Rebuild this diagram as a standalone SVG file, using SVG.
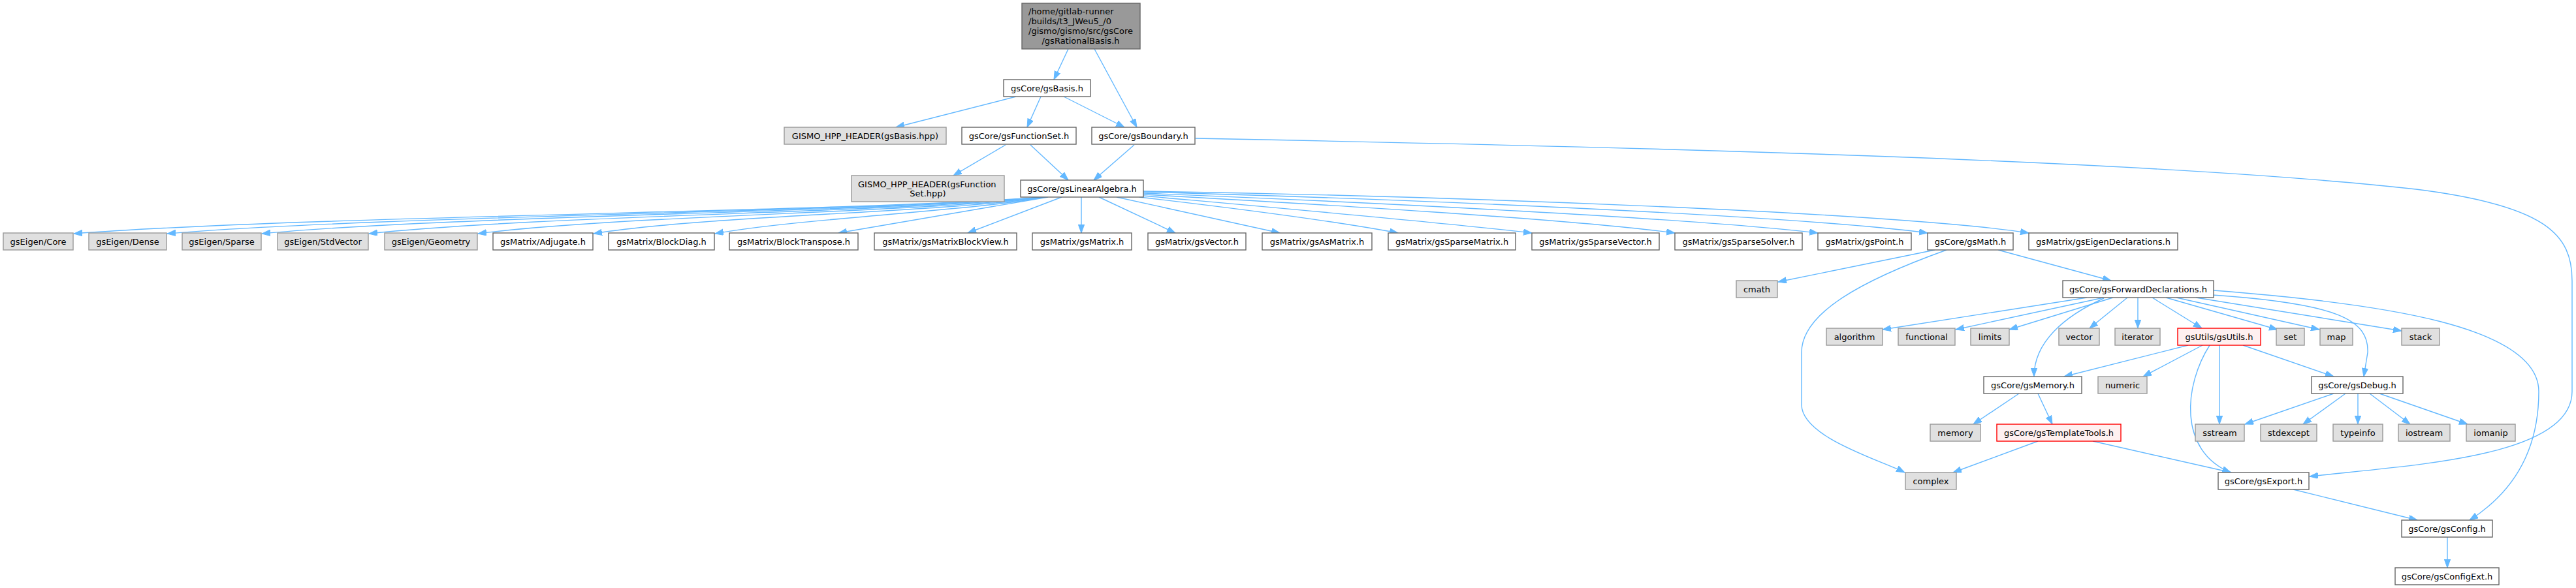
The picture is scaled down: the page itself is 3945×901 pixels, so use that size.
<svg xmlns="http://www.w3.org/2000/svg" width="3945" height="901" viewBox="0 0 3945 901">
<style>
rect{stroke-width:1.4}
.w rect{fill:#ffffff;stroke:#666666}
.g rect{fill:#e0e0e0;stroke:#999999}
.r rect{fill:#fff0f0;stroke:#ff0000}
.root rect{fill:#999999;stroke:#666666}
text{font-family:"DejaVu Sans","Liberation Sans",sans-serif;font-size:13px;fill:#000000;text-anchor:middle}
text.l{text-anchor:start}
#edges path{fill:none;stroke:#63b8ff;stroke-width:1.4;marker-end:url(#arr)}
</style>
<defs>
<marker id="arr" markerUnits="userSpaceOnUse" markerWidth="14" markerHeight="10" refX="13" refY="4.7" orient="auto">
<path d="M0,0 L13,4.7 L0,9.4 z" fill="#63b8ff" stroke="#63b8ff" stroke-width="1"/>
</marker>
</defs>
<rect x="0" y="0" width="3945" height="901" fill="#ffffff" style="stroke:none"/>
<g id="edges">
<path d="M1636,75 L1614,122"/>
<path d="M1676,75 L1741,195"/>
<path d="M1556,148 L1372,195"/>
<path d="M1594,148 L1573,195"/>
<path d="M1629,148 L1722,195"/>
<path d="M1540,222 L1460,269"/>
<path d="M1578,222 L1636,276"/>
<path d="M1737,222 L1675,276"/>
<path d="M1831,212 C2500,225 3300,245 3700,290 C3900,315 3939,360 3939,430 L3939,600 C3939,700 3700,712 3537,730"/>
<path d="M1598,302 C1301,325 484,330 113,358"/>
<path d="M1598,302 C1330,325 591,330 256,358"/>
<path d="M1598,302 C1359,325 700,330 401,358"/>
<path d="M1598,302 C1391,325 823,330 565,358"/>
<path d="M1598,302 C1425,325 948,330 732,358"/>
<path d="M1598,302 C1460,325 1081,330 909,358"/>
<path d="M1600,302 C1500,322 1221,335 1095,358"/>
<path d="M1605,302 L1284,357"/>
<path d="M1626,302 L1482,357"/>
<path d="M1656,302 L1656,357"/>
<path d="M1683,302 L1800,357"/>
<path d="M1710,302 L1960,357"/>
<path d="M1745,302 C1900,320 2050,340 2141,357"/>
<path d="M1751,300 C1950,318 2200,340 2346,357"/>
<path d="M1751,298 C2000,312 2400,335 2565,357"/>
<path d="M1751,296 C2100,310 2600,335 2784,357"/>
<path d="M1751,294 C2150,305 2750,330 2952,357"/>
<path d="M1751,293 C2200,300 2900,325 3107,357"/>
<path d="M2963,383 L2723,432"/>
<path d="M2981,383 C2850,430 2759,480 2759,540 L2759,620 C2759,670 2880,705 2917,724"/>
<path d="M3060,383 L3233,430"/>
<path d="M3196,456 L2883,505"/>
<path d="M3222,456 L2995,505"/>
<path d="M3236,456 L3077,505"/>
<path d="M3222,457 C3160,485 3115,525 3115,577"/>
<path d="M3258,456 L3200,503"/>
<path d="M3274,456 L3274,503"/>
<path d="M3296,456 L3372,503"/>
<path d="M3317,456 L3488,505"/>
<path d="M3333,456 L3552,505"/>
<path d="M3363,456 L3678,507"/>
<path d="M3388,452 C3580,465 3628,490 3626,540 L3620,577"/>
<path d="M3390,445 C3650,465 3888,500 3888,600 C3888,700 3840,760 3782,797"/>
<path d="M3351,529 L3161,577"/>
<path d="M3373,529 L3282,577"/>
<path d="M3384,529 C3345,590 3335,690 3416,724"/>
<path d="M3399,529 L3399,650"/>
<path d="M3435,529 L3574,577"/>
<path d="M3092,603 L3022,650"/>
<path d="M3121,603 L3143,650"/>
<path d="M3574,603 L3438,650"/>
<path d="M3592,603 L3527,650"/>
<path d="M3611,603 L3611,650"/>
<path d="M3629,603 L3691,650"/>
<path d="M3644,603 L3779,650"/>
<path d="M3121,676 L2991,724"/>
<path d="M3205,676 L3417,724"/>
<path d="M3512,750 L3702,797"/>
<path d="M3748,823 L3748,870"/>
</g>
<g id="n_root" class="root"><rect x="1565" y="5" width="181" height="70"/>
<text class="l" x="1575" y="21.5">/home/gitlab-runner</text>
<text class="l" x="1575" y="36.5">/builds/t3_JWeu5_/0</text>
<text class="l" x="1575" y="51.5">/gismo/gismo/src/gsCore</text>
<text x="1655" y="66.5">/gsRationalBasis.h</text></g>
<g id="n_gsBasis" class="w"><rect x="1537" y="122" width="133" height="26"/><text x="1603.5" y="139.5">gsCore/gsBasis.h</text></g>
<g id="n_gismo1" class="g"><rect x="1201" y="195" width="248" height="26"/><text x="1325" y="212.5">GISMO_HPP_HEADER(gsBasis.hpp)</text></g>
<g id="n_gsFunctionSet" class="w"><rect x="1473" y="195" width="175" height="26"/><text x="1560.5" y="212.5">gsCore/gsFunctionSet.h</text></g>
<g id="n_gsBoundary" class="w"><rect x="1672" y="195" width="158" height="26"/><text x="1751" y="212.5">gsCore/gsBoundary.h</text></g>
<g id="n_gismo2" class="g"><rect x="1304" y="269" width="234" height="40"/>
<text class="l" x="1314" y="286.5">GISMO_HPP_HEADER(gsFunction</text>
<text x="1421" y="300.5">Set.hpp)</text></g>
<g id="n_gsLinearAlgebra" class="w"><rect x="1563" y="276" width="188" height="26"/><text x="1657" y="293.5">gsCore/gsLinearAlgebra.h</text></g>
<g id="n_core" class="g"><rect x="5" y="357" width="107" height="26"/><text x="58.5" y="374.5">gsEigen/Core</text></g>
<g id="n_dense" class="g"><rect x="136" y="357" width="119" height="26"/><text x="195.5" y="374.5">gsEigen/Dense</text></g>
<g id="n_sparse" class="g"><rect x="279" y="357" width="121" height="26"/><text x="339.5" y="374.5">gsEigen/Sparse</text></g>
<g id="n_stdvector" class="g"><rect x="425" y="357" width="139" height="26"/><text x="494.5" y="374.5">gsEigen/StdVector</text></g>
<g id="n_geometry" class="g"><rect x="589" y="357" width="142" height="26"/><text x="660" y="374.5">gsEigen/Geometry</text></g>
<g id="n_adjugate" class="w"><rect x="755" y="357" width="153" height="26"/><text x="831.5" y="374.5">gsMatrix/Adjugate.h</text></g>
<g id="n_blockdiag" class="w"><rect x="932" y="357" width="162" height="26"/><text x="1013" y="374.5">gsMatrix/BlockDiag.h</text></g>
<g id="n_blocktranspose" class="w"><rect x="1117" y="357" width="197" height="26"/><text x="1215.5" y="374.5">gsMatrix/BlockTranspose.h</text></g>
<g id="n_blockview" class="w"><rect x="1339" y="357" width="218" height="26"/><text x="1448" y="374.5">gsMatrix/gsMatrixBlockView.h</text></g>
<g id="n_gsmatrix" class="w"><rect x="1581" y="357" width="152" height="26"/><text x="1657" y="374.5">gsMatrix/gsMatrix.h</text></g>
<g id="n_gsvector" class="w"><rect x="1758" y="357" width="150" height="26"/><text x="1833" y="374.5">gsMatrix/gsVector.h</text></g>
<g id="n_gsasmatrix" class="w"><rect x="1933" y="357" width="168" height="26"/><text x="2017" y="374.5">gsMatrix/gsAsMatrix.h</text></g>
<g id="n_sparsematrix" class="w"><rect x="2126" y="357" width="195" height="26"/><text x="2223.5" y="374.5">gsMatrix/gsSparseMatrix.h</text></g>
<g id="n_sparsevector" class="w"><rect x="2346" y="357" width="195" height="26"/><text x="2443.5" y="374.5">gsMatrix/gsSparseVector.h</text></g>
<g id="n_sparsesolver" class="w"><rect x="2565" y="357" width="195" height="26"/><text x="2662.5" y="374.5">gsMatrix/gsSparseSolver.h</text></g>
<g id="n_gspoint" class="w"><rect x="2784" y="357" width="143" height="26"/><text x="2855.5" y="374.5">gsMatrix/gsPoint.h</text></g>
<g id="n_gsmath" class="w"><rect x="2952" y="357" width="131" height="26"/><text x="3017.5" y="374.5">gsCore/gsMath.h</text></g>
<g id="n_eigendecl" class="w"><rect x="3107" y="357" width="228" height="26"/><text x="3221" y="374.5">gsMatrix/gsEigenDeclarations.h</text></g>
<g id="n_cmath" class="g"><rect x="2659" y="430" width="63" height="26"/><text x="2690.5" y="447.5">cmath</text></g>
<g id="n_fwd" class="w"><rect x="3159" y="430" width="231" height="26"/><text x="3274.5" y="447.5">gsCore/gsForwardDeclarations.h</text></g>
<g id="n_algorithm" class="g"><rect x="2797" y="503" width="86" height="26"/><text x="2840" y="520.5">algorithm</text></g>
<g id="n_functional" class="g"><rect x="2907" y="503" width="87" height="26"/><text x="2950.5" y="520.5">functional</text></g>
<g id="n_limits" class="g"><rect x="3018" y="503" width="59" height="26"/><text x="3047.5" y="520.5">limits</text></g>
<g id="n_vector" class="g"><rect x="3153" y="503" width="62" height="26"/><text x="3184" y="520.5">vector</text></g>
<g id="n_iterator" class="g"><rect x="3239" y="503" width="69" height="26"/><text x="3273.5" y="520.5">iterator</text></g>
<g id="n_gsutils" class="r"><rect x="3335" y="503" width="127" height="26"/><text x="3398.5" y="520.5">gsUtils/gsUtils.h</text></g>
<g id="n_set" class="g"><rect x="3486" y="503" width="43" height="26"/><text x="3507.5" y="520.5">set</text></g>
<g id="n_map" class="g"><rect x="3553" y="503" width="50" height="26"/><text x="3578" y="520.5">map</text></g>
<g id="n_stack" class="g"><rect x="3678" y="503" width="58" height="26"/><text x="3707" y="520.5">stack</text></g>
<g id="n_gsmemory" class="w"><rect x="3038" y="577" width="150" height="26"/><text x="3113" y="594.5">gsCore/gsMemory.h</text></g>
<g id="n_numeric" class="g"><rect x="3213" y="577" width="75" height="26"/><text x="3250.5" y="594.5">numeric</text></g>
<g id="n_gsdebug" class="w"><rect x="3540" y="577" width="140" height="26"/><text x="3610" y="594.5">gsCore/gsDebug.h</text></g>
<g id="n_memory" class="g"><rect x="2956" y="650" width="77" height="26"/><text x="2994.5" y="667.5">memory</text></g>
<g id="n_templatetools" class="r"><rect x="3058" y="650" width="190" height="26"/><text x="3153" y="667.5">gsCore/gsTemplateTools.h</text></g>
<g id="n_sstream" class="g"><rect x="3362" y="650" width="75" height="26"/><text x="3399.5" y="667.5">sstream</text></g>
<g id="n_stdexcept" class="g"><rect x="3462" y="650" width="86" height="26"/><text x="3505" y="667.5">stdexcept</text></g>
<g id="n_typeinfo" class="g"><rect x="3573" y="650" width="76" height="26"/><text x="3611" y="667.5">typeinfo</text></g>
<g id="n_iostream" class="g"><rect x="3673" y="650" width="79" height="26"/><text x="3712.5" y="667.5">iostream</text></g>
<g id="n_iomanip" class="g"><rect x="3777" y="650" width="75" height="26"/><text x="3814.5" y="667.5">iomanip</text></g>
<g id="n_complex" class="g"><rect x="2918" y="724" width="78" height="26"/><text x="2957" y="741.5">complex</text></g>
<g id="n_gsexport" class="w"><rect x="3397" y="724" width="139" height="26"/><text x="3466.5" y="741.5">gsCore/gsExport.h</text></g>
<g id="n_gsconfig" class="w"><rect x="3678" y="797" width="139" height="26"/><text x="3747.5" y="814.5">gsCore/gsConfig.h</text></g>
<g id="n_gsconfigext" class="w"><rect x="3668" y="870" width="159" height="26"/><text x="3747.5" y="887.5">gsCore/gsConfigExt.h</text></g>
</svg>
